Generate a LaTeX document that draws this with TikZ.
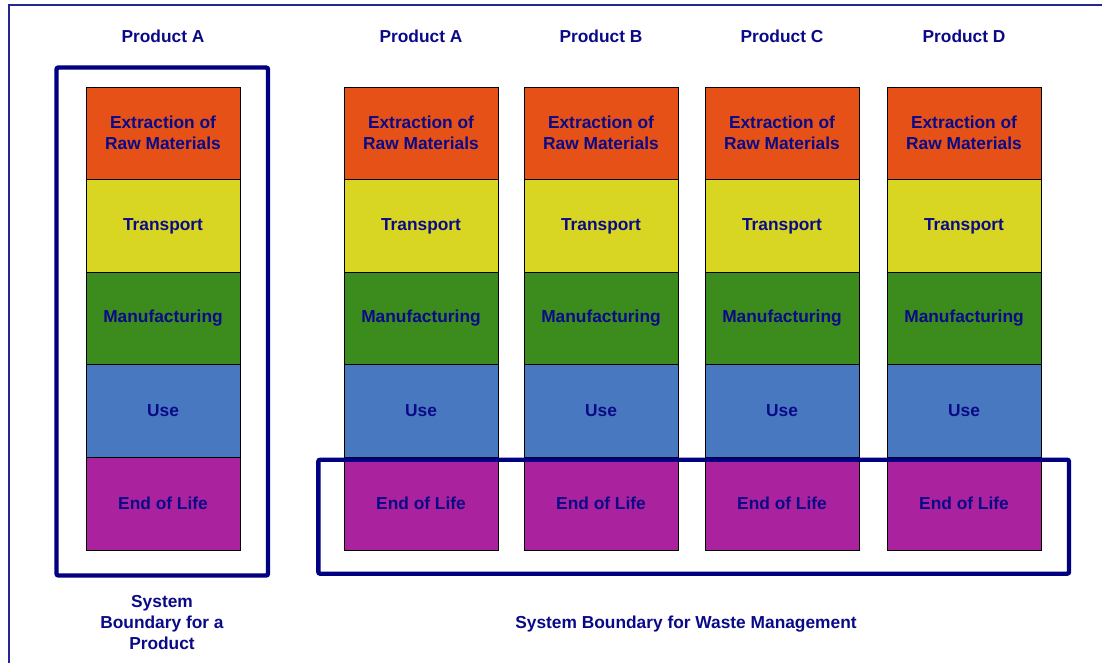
\documentclass[tikz,border=0pt]{standalone}
\usepackage{fontspec}
\setmainfont{Liberation Sans}
\definecolor{navytxt}{HTML}{0A0A88}
\definecolor{bnd}{HTML}{000080}
\definecolor{cext}{HTML}{E65117}
\definecolor{ctra}{HTML}{D8D622}
\definecolor{cman}{HTML}{3C8B1D}
\definecolor{cuse}{HTML}{4878BF}
\definecolor{ceol}{HTML}{AA229D}
\begin{document}
\begin{tikzpicture}[x=0.75pt,y=-0.75pt,
  stage/.style={draw=black,line width=0.6pt,minimum width=115.5pt,minimum height=69.45pt,
    inner sep=0pt,outer sep=0pt,anchor=north west,align=center,
    font=\fontsize{13}{15.75}\selectfont\bfseries,text=navytxt},
  lbl/.style={font=\fontsize{13}{15.5}\selectfont\bfseries,text=navytxt,align=center,inner sep=0pt},
  boundary/.style={draw=bnd,line width=3.3pt,rounded corners=1.5pt},
  framelin/.style={draw=bnd!85,line width=1pt}]
\useasboundingbox (0,0) rectangle (1102,663);
\draw[framelin] (9,670) -- (9,5) -- (1110,5);
\foreach \i/\x/\p in {1/86/A,2/344/A,3/524/B,4/705/C,5/887/D}{
  \node[stage,fill=cext] (ext\i) at (\x,87) {Extraction of\\Raw Materials};
  \node[stage,fill=ctra] (tra\i) at (\x,179.6) {Transport};
  \node[stage,fill=cman] (man\i) at (\x,272.2) {Manufacturing};
  \node[stage,fill=cuse] (use\i) at (\x,364.8) {Use};
  \node[stage,fill=ceol] (eol\i) at (\x,457.4) {End of Life};
  \node[lbl] (prod\i) at (\x+77,36) {Product \p};
}
\draw[boundary] (56.5,67.5) rectangle (268,575.5);
\draw[boundary] (318.3,459.7) rectangle (1069,573.7);
\node[lbl] (sysprod) at (162,622.5) {System\\Boundary for a\\Product};
\node[lbl] (syswaste) at (686,624.5) {System Boundary for Waste Management};
\end{tikzpicture}
\end{document}
